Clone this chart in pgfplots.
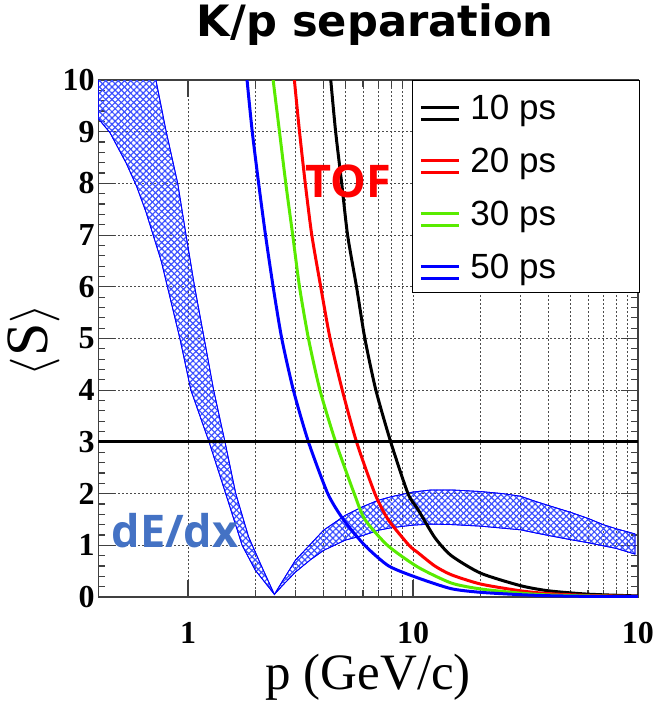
\documentclass[border=0pt]{standalone}
\usepackage{fontspec}
\setmainfont{Liberation Serif}
\newfontfamily\legfont{Liberation Sans}
\newfontfamily\titlefont{DejaVu Sans}
\newfontfamily\annfont{Open Sans}
\usepackage{pgfplots}
\pgfplotsset{compat=1.18}
\usetikzlibrary{patterns.meta}
\definecolor{rootgreen}{rgb}{0.35,0.92,0.0}
\definecolor{dedxblue}{RGB}{68,114,196}
\definecolor{hatch}{RGB}{60,80,255}
\begin{document}
\begin{tikzpicture}
\path[use as bounding box] (-49.25pt,-53pt) rectangle (277.25pt,298.5pt);
\begin{axis}[
  scale only axis, width=269.75pt, height=258.5pt,
  xmode=log, xmin=0.4, xmax=100, ymin=0, ymax=10,
  xtick={1,10,100}, xticklabels={1,10,10},
  ytick={0,1,2,3,4,5,6,7,8,9,10},
  minor y tick num=4,
  tick align=inside, tick pos=both,
  major tick length=8.3pt, minor tick length=3.5pt,
  xmajorgrids, xminorgrids, ymajorgrids,
  grid style={black!70, line width=0.4pt, dash pattern=on 0.8pt off 1.2pt},
  axis line style={black!75, line width=0.8pt},
  every tick/.style={black!75, line width=0.6pt},
  /pgf/number format/assume math mode=true,
  ticklabel style={font=\fontsize{16}{16}\selectfont\bfseries},
  yticklabel style={inner sep=0pt, xshift=-1.75pt},
  xticklabel style={inner sep=0pt, yshift=-12.5pt},
  title={K/p separation},
  title style={at={(axis description cs:0.513,1)}, anchor=base, yshift=16pt, inner sep=0pt,
    font=\titlefont\bfseries\fontsize{21.6}{21.6}\selectfont},
  xlabel={p (GeV/c)},
  xlabel style={at={(axis description cs:0.5,0)}, anchor=base, yshift=-46pt, inner sep=0pt,
    font=\fontsize{25.5}{25.5}\selectfont},
  ylabel={$\langle$S$\rangle$},
  ylabel style={at={(axis description cs:-0.12,0.497)}, anchor=center, inner sep=0pt,
    font=\fontsize{30}{30}\selectfont},
  legend style={at={(axis description cs:1.0037,1)}, anchor=north east, draw=black,
    line width=0.5pt, fill=white, inner xsep=3.5pt, inner ysep=0pt, row sep=0pt,
    column sep=5pt, font=\legfont\fontsize{17.5}{17.5}\selectfont,
    nodes={inner sep=0pt, text height=19.5pt, text depth=7pt}},
  legend image code/.code={\path (0pt,-6.25pt) -- (19pt,-6.25pt);\draw[#1] (0pt,0pt) -- (19pt,0pt);},
]
% dE/dx band
\addplot[draw=blue, line width=0.4pt,
  pattern={Lines[angle=45,distance=2.2pt,line width=0.6pt]}, pattern color=hatch,
  postaction={pattern={Lines[angle=-45,distance=2.2pt,line width=0.6pt]}, pattern color=hatch},
  forget plot] coordinates {
(0.4,9.25) (0.45,8.98) (0.48,8.75) (0.53,8.4) (0.59,7.95) (0.65,7.45) (0.70,7.0) (0.76,6.5)
(0.81,6.0) (0.92,5.0) (1.03,4.0) (1.24,3.0) (1.47,2.0) (1.74,1.0) (1.99,0.52) (2.2,0.28)
(2.42,0.05) (2.64,0.23) (3,0.48) (3.5,0.72) (4,0.9) (5,1.1) (6,1.19) (7,1.29) (8,1.34)
(10,1.39) (12,1.41) (15,1.40) (20,1.37) (30,1.30) (35,1.24) (40,1.19) (50,1.11) (60,1.05)
(70,0.99) (80,0.94) (97,0.83)
(97,1.22) (80,1.32) (70,1.40) (60,1.52) (50,1.64) (40,1.77) (35,1.85) (30,1.95) (25,2.0)
(20,2.04) (15,2.07) (12,2.07) (10,2.03) (8,1.94) (7,1.87) (6,1.75) (5,1.58) (4,1.29)
(3.5,1.02) (3,0.71) (2.64,0.32) (2.42,0.05) (2.13,0.58) (1.86,1.16) (1.63,2.0) (1.46,3.0)
(1.30,4.0) (1.18,5.0) (1.07,6.0) (0.98,7.0) (0.9,8.0) (0.8,9.0) (0.72,10.0) (0.4,15)
} -- cycle;
% TOF curves
\addplot[black, line width=1.5pt, smooth, tension=0.4] coordinates {
(4.2,10.6) (4.31,10) (4.53,9) (4.82,8) (5.12,7) (5.61,6) (6.11,5) (6.84,4) (7.96,3)
(9.5,2.0) (10.5,1.7) (12.5,1.15) (14.8,0.8) (20,0.46) (30,0.22) (40,0.12) (60,0.055) (100,0.02)};
\addlegendentry{\makebox[81pt][l]{10 ps}}
\addplot[red, line width=1.5pt, smooth, tension=0.4] coordinates {
(2.9,10.5) (2.97,10) (3.13,9) (3.32,8) (3.55,7) (3.89,6) (4.28,5) (4.85,4) (5.61,3)
(6.77,2) (7.75,1.5) (9.6,1.0) (10.5,0.86) (12.5,0.6) (14.8,0.43) (20,0.25) (30,0.12)
(40,0.065) (60,0.03) (100,0.01)};
\addlegendentry{\makebox[81pt][l]{20 ps}}
\addplot[rootgreen, line width=1.5pt, smooth, tension=0.4] coordinates {
(2.33,10.5) (2.39,10) (2.55,9) (2.72,8) (2.92,7) (3.13,6) (3.43,5) (3.86,4) (4.53,3)
(5.48,2) (6.11,1.5) (7.7,1.0) (10.5,0.58) (14.8,0.27) (20,0.155) (30,0.075) (40,0.04)
(60,0.02) (100,0.007)};
\addlegendentry{\makebox[81pt][l]{30 ps}}
\addplot[blue, line width=1.5pt, smooth, tension=0.4] coordinates {
(1.79,10.5) (1.83,10) (1.93,9) (2.06,8) (2.21,7) (2.39,6) (2.61,5) (2.94,4) (3.43,3)
(4.18,2) (4.90,1.5) (6.1,1.0) (7.8,0.6) (10.5,0.37) (14.8,0.16) (20,0.09) (30,0.045)
(40,0.025) (60,0.012) (100,0.005)};
\addlegendentry{\makebox[81pt][l]{50 ps}}
% 3 sigma line
\addplot[black, line width=1.5pt, forget plot] coordinates {(0.4,3) (100,3)};
\node[font=\annfont\bfseries\fontsize{22.5}{22.5}\selectfont, text=red, anchor=base, inner sep=0pt]
  at (axis cs:5.16,7.72) {TOF};
\node[font=\annfont\bfseries\fontsize{22.5}{22.5}\selectfont, text=dedxblue, anchor=base, inner sep=0pt]
  at (axis cs:0.876,0.967) {dE/dx};
\end{axis}
\end{tikzpicture}
\end{document}
